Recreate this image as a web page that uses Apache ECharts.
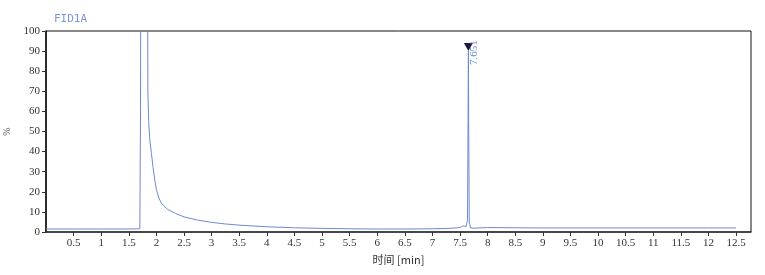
<!DOCTYPE html>
<html>
<head>
<meta charset="utf-8">
<script src="https://cdn.jsdelivr.net/npm/echarts@6/dist/echarts.min.js"></script>
<style>html,body{margin:0;padding:0;background:#fff}#c{width:765px;height:275px}</style>
</head>
<body>
<div id="c"></div>
<script>
// retention time (min)
const times = [0.0, 0.5, 1.0, 1.5, 1.70, 1.712, 1.72, 1.835, 1.845, 1.86, 1.88, 1.91, 1.94, 1.97, 2.0, 2.05, 2.1, 2.2, 2.35, 2.5, 2.75, 3.0, 3.25, 3.5, 4.0, 4.5, 5.0, 5.5, 6.0, 6.5, 7.0, 7.3, 7.5, 7.55, 7.58, 7.61, 7.635, 7.645, 7.651, 7.657, 7.667, 7.69, 7.75, 8.0, 8.5, 9.0, 10.0, 11.0, 12.0, 12.5];
// signal (%)
const signal = [1.5, 1.5, 1.5, 1.5, 1.6, 60, 200, 200, 70, 55, 46, 39, 32, 26, 21, 16.5, 14, 11.3, 9.2, 7.5, 5.9, 4.8, 4.0, 3.4, 2.6, 2.1, 1.8, 1.6, 1.5, 1.5, 1.6, 1.8, 2.2, 3.0, 2.4, 2.8, 6, 55, 90, 50, 5, 2.0, 1.9, 2.2, 2.1, 2.0, 2.0, 2.0, 2.0, 2.0];
const xTicks = ['0.5','1','1.5','2','2.5','3','3.5','4','4.5','5','5.5','6','6.5','7','7.5','8','8.5','9','9.5','10','10.5','11','11.5','12','12.5'];
const yTicks = [0,10,20,30,40,50,60,70,80,90,100];
const peakLabel = '7.651';
const peakTime = 7.651;
const peakHeight = 90;

const chart = echarts.init(document.getElementById('c'));
const serif = "'Liberation Serif','DejaVu Serif',serif";
chart.setOption({
  animation: false,
  backgroundColor: '#fff',
  title: {
    text: 'FID1A', left: 49, top: 9,
    textStyle: {color: '#7a94dc', fontSize: 11, fontWeight: 'normal', fontFamily: "'DejaVu Sans Mono',monospace"}
  },
  grid: {left: 46, right: 14, top: 31, bottom: 43, show: true, borderColor: '#111', borderWidth: 1, containLabel: false, outerBoundsMode: 'none'},
  xAxis: {
    type: 'value', min: 0, max: 12.77, interval: 0.5,
    name: '时间 [min]', nameLocation: 'middle', nameGap: 20,
    nameTextStyle: {color: '#333', fontSize: 11, fontFamily: "'Noto Sans CJK SC',sans-serif"},
    axisLine: {lineStyle: {color: '#333', width: 1.5}},
    axisTick: {show: true, length: 4, lineStyle: {color: '#333'}},
    splitLine: {show: false},
    axisLabel: {
      color: '#333', fontSize: 11, fontFamily: serif, margin: 6, showMaxLabel: false, showMinLabel: false,
      formatter: function (v) { const s = String(Math.round(v * 100) / 100); return xTicks.indexOf(s) >= 0 ? s : ''; }
    }
  },
  yAxis: {
    type: 'value', min: 0, max: 100, interval: 10,
    name: '%', nameLocation: 'middle', nameGap: 24, nameRotate: 90,
    nameTextStyle: {color: '#555', fontSize: 10, fontFamily: serif},
    axisLine: {show: true, lineStyle: {color: '#111', width: 1.5}},
    axisTick: {show: true, length: 4, lineStyle: {color: '#333'}},
    splitLine: {show: false},
    axisLabel: {
      color: '#333', fontSize: 11, fontFamily: serif, margin: 6,
      formatter: function (v) { return yTicks.indexOf(v) >= 0 ? String(v) : ''; }
    }
  },
  series: [{
    type: 'line',
    data: times.map((t, i) => [t, signal[i]]),
    showSymbol: false, clip: true,
    lineStyle: {color: '#6c89d8', width: 1},
    markPoint: {
      symbol: 'triangle', symbolRotate: 180, symbolSize: [9, 8], symbolOffset: [0, -4],
      itemStyle: {color: '#1a1a3a'},
      label: {
        show: true, formatter: peakLabel, rotate: 90, color: '#6c89d8', fontSize: 11,
        fontFamily: serif, position: [10, 22], align: 'left', verticalAlign: 'middle'
      },
      data: [{coord: [peakTime, peakHeight]}]
    }
  }]
});
</script>
</body>
</html>
